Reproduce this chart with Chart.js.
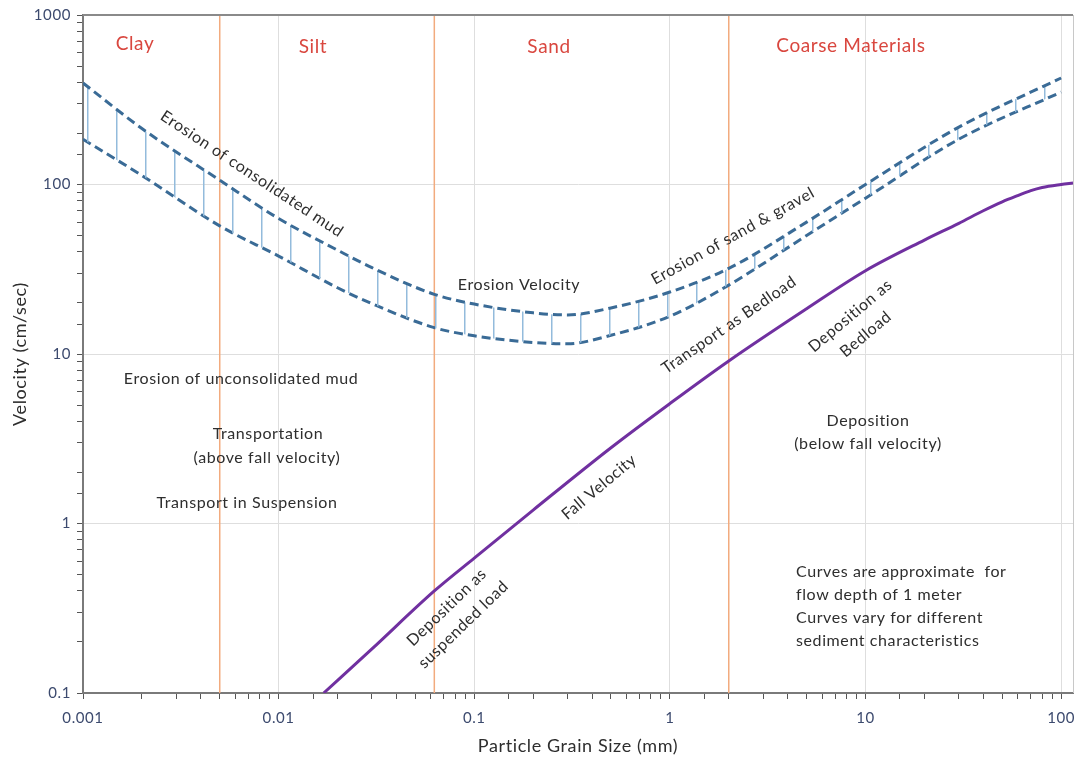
<!DOCTYPE html>
<html>
<head>
<meta charset="utf-8">
<script src="https://cdn.jsdelivr.net/npm/chart.js@4.4.1/dist/chart.umd.min.js"></script>
<style>
  html, body { margin: 0; padding: 0; background: #fff; overflow: hidden; }
  #wrap { width: 1076px; height: 759px; }
</style>
</head>
<body>
<div id="wrap"><canvas id="hjulstrom"></canvas></div>
<script>
// grain size (mm) and velocity (cm/sec)
const erosionX = [0.001, 0.002, 0.005, 0.01, 0.02, 0.03, 0.0625, 0.1, 0.2, 0.3, 0.5, 1, 2, 5, 10, 30, 100];
const erosionUpper = [397, 214, 106, 63, 41, 32.3, 22.5, 19.7, 17.5, 17.0, 18.7, 23.2, 32, 60, 100, 218, 425];
const erosionLower = [185, 113, 57, 37.8, 24.6, 19.8, 14.3, 12.8, 11.7, 11.5, 12.9, 16.7, 25.5, 50, 83, 185, 351];

const fallX = [0.017, 0.03, 0.0625, 0.1, 0.2, 0.5, 1, 2, 5, 10, 20, 30, 40, 50, 60, 70, 80, 100, 115];
const fallY = [0.1, 0.182, 0.4, 0.625, 1.2, 2.8, 5.1, 9.1, 18.5, 31, 47, 59, 70, 79, 86, 92, 96, 100, 102];

// size class boundaries (mm)
const boundaries = [0.005, 0.0625, 2];
const classNames = ['Clay', 'Silt', 'Sand', 'Coarse Materials'];

const xTickLabels = [0.001, 0.01, 0.1, 1, 10, 100];
const yTickLabels = [0.1, 1, 10, 100, 1000];

const FONT = 'Lato, "Open Sans", sans-serif';

function pts(xs, ys) {
    return xs.map((x, i) => ({ x: x, y: ys[i] }));
}

function isDecade(v) {
    const l = Math.log10(v);
    return Math.abs(l - Math.round(l)) < 1e-6;
}

function hatchPattern() {
    const c = document.createElement('canvas');
    c.width = 29;
    c.height = 4;
    const g = c.getContext('2d');
    g.fillStyle = '#93bbdc';
    g.fillRect(0, 0, 1.5, 4);
    return g.createPattern(c, 'repeat');
}

const datasets = [
    {
        label: 'Erosion upper',
        data: pts(erosionX, erosionUpper),
        borderColor: '#3a6b96',
        borderWidth: 3,
        borderDash: [9, 5],
        pointRadius: 0,
        cubicInterpolationMode: 'monotone',
        fill: '+1',
        backgroundColor: hatchPattern(),
        order: 1
    },
    {
        label: 'Erosion lower',
        data: pts(erosionX, erosionLower),
        borderColor: '#3a6b96',
        borderWidth: 3,
        borderDash: [9, 5],
        pointRadius: 0,
        cubicInterpolationMode: 'monotone',
        fill: false,
        order: 1
    },
    {
        label: 'Fall Velocity',
        data: pts(fallX, fallY),
        borderColor: '#7030a0',
        borderWidth: 3,
        pointRadius: 0,
        cubicInterpolationMode: 'monotone',
        fill: false,
        order: 0
    }
];

boundaries.forEach(b => {
    datasets.push({
        label: 'boundary ' + b,
        data: [{ x: b, y: 0.1 }, { x: b, y: 1000 }],
        borderColor: '#f2ab7e',
        borderWidth: 1.5,
        pointRadius: 0,
        fill: false,
        order: 5
    });
});

// text labels placed on the plot (pixel positions)
const notes = [
    { t: 'Erosion of consolidated mud', x: 252, y: 174, a: 33.5 },
    { t: 'Erosion Velocity', x: 519, y: 285, a: 0 },
    { t: 'Erosion of sand & gravel', x: 733, y: 236, a: -29 },
    { t: 'Transport as Bedload', x: 729, y: 325, a: -34.5 },
    { t: 'Erosion of unconsolidated mud', x: 241, y: 379, a: 0 },
    { t: 'Transportation', x: 268, y: 434, a: 0 },
    { t: '(above fall velocity)', x: 267, y: 458, a: 0 },
    { t: 'Transport in Suspension', x: 247, y: 503, a: 0 },
    { t: 'Fall Velocity', x: 599, y: 487, a: -40 },
    { t: 'Deposition', x: 868, y: 421, a: 0 },
    { t: '(below fall velocity)', x: 868, y: 444, a: 0 }
];

const blocks = [
    { lines: ['Deposition as', 'Bedload'], x: 858, y: 325, a: -40 },
    { lines: ['Deposition as', 'suspended load'], x: 455, y: 616, a: -44 }
];

const remark = ['Curves are approximate  for', 'flow depth of 1 meter', 'Curves vary for different', 'sediment characteristics'];

const textPlugin = {
    id: 'textPlugin',
    beforeDraw(chart) {
        chart.ctx.letterSpacing = '0.6px';
    },
    afterDatasetsDraw(chart) {
        const ctx = chart.ctx;
        const area = chart.chartArea;

        ctx.save();
        // frame top / right
        ctx.strokeStyle = '#8a8a8a';
        ctx.lineWidth = 2;
        ctx.beginPath();
        ctx.moveTo(area.left, area.top);
        ctx.lineTo(area.right, area.top);
        ctx.stroke();
        ctx.strokeStyle = '#c8c8c8';
        ctx.lineWidth = 1;
        ctx.beginPath();
        ctx.moveTo(area.right + 0.5, area.top);
        ctx.lineTo(area.right + 0.5, area.bottom);
        ctx.stroke();

        ctx.textAlign = 'center';
        ctx.textBaseline = 'middle';

        // size class names
        ctx.fillStyle = '#d9473f';
        ctx.font = '19px ' + FONT;
        const classY = [44, 47, 47, 46];
        const classPx = [135, 313, 549, 851];
        classNames.forEach((n, i) => {
            ctx.fillText(n, classPx[i], classY[i]);
        });

        ctx.fillStyle = '#2e2e2e';
        ctx.font = '16px ' + FONT;
        notes.forEach(n => {
            ctx.save();
            ctx.translate(n.x, n.y);
            ctx.rotate(n.a * Math.PI / 180);
            ctx.fillText(n.t, 0, 0);
            ctx.restore();
        });
        blocks.forEach(b => {
            ctx.save();
            ctx.translate(b.x, b.y);
            ctx.rotate(b.a * Math.PI / 180);
            ctx.fillText(b.lines[0], 0, -12);
            ctx.fillText(b.lines[1], 0, 12);
            ctx.restore();
        });

        ctx.textAlign = 'left';
        remark.forEach((l, i) => {
            ctx.fillText(l, 796, 572 + i * 23);
        });
        ctx.restore();
    }
};

const ctx = document.getElementById('hjulstrom').getContext('2d');
const chart = new Chart(ctx, {
    type: 'line',
    data: { datasets: datasets },
    options: {
        responsive: true,
        maintainAspectRatio: false,
        animation: false,
        layout: { padding: { top: 15, right: 3, left: 0, bottom: 0 } },
        plugins: {
            legend: { display: false },
            tooltip: { enabled: false }
        },
        scales: {
            x: {
                type: 'logarithmic',
                min: 0.001,
                max: 115,
                afterFit: s => {
                    s.height = 66;
                    s.paddingRight = 0;
                    s.paddingLeft = 0;
                },
                border: { color: '#7a7a7a', width: 2 },
                grid: {
                    color: c => (c.tick && isDecade(c.tick.value) && c.tick.value < 110 ? '#dedede' : 'rgba(0,0,0,0)'),
                    tickColor: c => (c.tick && c.tick.value > 101 ? 'rgba(0,0,0,0)' : '#555'),
                    tickLength: 6,
                    lineWidth: 1
                },
                ticks: {
                    autoSkip: false,
                    maxRotation: 0,
                    padding: 10,
                    color: '#3c4a6e',
                    font: { family: FONT, size: 15 },
                    callback: v => (xTickLabels.some(t => Math.abs(t - v) / t < 1e-6) ? String(Number(v.toPrecision(3))) : '')
                },
                title: {
                    display: true,
                    text: 'Particle Grain Size (mm)',
                    color: '#2e2e2e',
                    font: { family: FONT, size: 18 },
                    padding: { top: 0, bottom: 2 }
                }
            },
            y: {
                type: 'logarithmic',
                min: 0.1,
                max: 1000,
                afterFit: s => { s.width = 83; },
                border: { color: '#7a7a7a', width: 2 },
                grid: {
                    color: c => (c.tick && isDecade(c.tick.value) ? '#dedede' : 'rgba(0,0,0,0)'),
                    tickColor: '#555',
                    tickLength: 6,
                    lineWidth: 1
                },
                ticks: {
                    autoSkip: false,
                    padding: 6,
                    color: '#3c4a6e',
                    font: { family: FONT, size: 15 },
                    callback: v => (yTickLabels.some(t => Math.abs(t - v) / t < 1e-6) ? String(Number(v.toPrecision(3))) : '')
                },
                title: {
                    display: true,
                    text: 'Velocity (cm/sec)',
                    color: '#2e2e2e',
                    font: { family: FONT, size: 18 },
                    padding: { top: 9, bottom: 0 }
                }
            }
        }
    },
    plugins: [textPlugin]
});
</script>
</body>
</html>
